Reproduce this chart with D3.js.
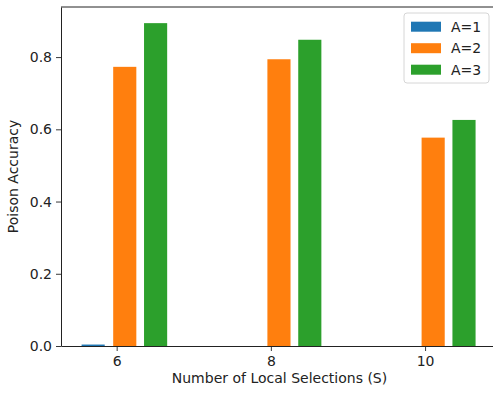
<!DOCTYPE html>
<html>
<head>
<meta charset="utf-8">
<script src="https://cdn.jsdelivr.net/npm/d3@7"></script>
<style>
  html, body { margin: 0; padding: 0; background: #fff; }
  svg { display: block; font-family: "DejaVu Sans", sans-serif; }
</style>
</head>
<body>
<svg id="chart" width="493" height="396"></svg>
<script>
// Grouped bars: poison accuracy per number of local selections, one bar per A
const categories = [6, 8, 10];
const seriesNames = ["A=1", "A=2", "A=3"];
const seriesA1 = [0.004, 0.0, 0.0];
const seriesA2 = [0.773, 0.794, 0.577];
const seriesA3 = [0.894, 0.848, 0.626];
const seriesColors = ["#1f77b4", "#ff7f0e", "#2ca02c"];
const barOffsets = [-0.455, -0.045, 0.355];   // left edge of each bar, in x units
const barWidth = 0.3;
const yTicks = [0.0, 0.2, 0.4, 0.6, 0.8];
const xTicks = [6, 8, 10];
const xDomain = [5.278, 10.92];
const yDomain = [0, 0.9387];

const series = [seriesA1, seriesA2, seriesA3];

const svg = d3.select("#chart");
// the axes box runs a few pixels past the right edge of the canvas
const plot = { left: 61, top: 7, right: 496, bottom: 346 };

const x = d3.scaleLinear().domain(xDomain).range([plot.left, plot.right]);
const y = d3.scaleLinear().domain(yDomain).range([plot.bottom, plot.top]);

// bars
series.forEach((vals, si) => {
  svg.append("g")
    .selectAll("rect")
    .data(categories.map((c, i) => ({ c, v: vals[i] })))
    .join("rect")
    .attr("x", d => x(d.c + barOffsets[si]))
    .attr("width", d => x(d.c + barOffsets[si] + barWidth) - x(d.c + barOffsets[si]))
    .attr("y", d => y(d.v))
    .attr("height", d => y(0) - y(d.v))
    .attr("fill", seriesColors[si]);
});

// axes
const axisColor = "#222";
const xAxis = svg.append("g")
  .attr("transform", `translate(0,${plot.bottom})`)
  .call(d3.axisBottom(x).tickValues(xTicks).tickFormat(d3.format("d")).tickSize(5).tickPadding(5).tickSizeOuter(0));
const yAxis = svg.append("g")
  .attr("transform", `translate(${plot.left},0)`)
  .call(d3.axisLeft(y).tickValues(yTicks).tickFormat(d3.format(".1f")).tickSize(5).tickPadding(4).tickSizeOuter(0));

[xAxis, yAxis].forEach(g => {
  g.select(".domain").attr("stroke", axisColor).attr("stroke-width", 1);
  g.selectAll(".tick line").attr("stroke", axisColor).attr("stroke-width", 0.9);
  g.selectAll(".tick text")
    .attr("fill", "#222")
    .style("font-family", "'DejaVu Sans', sans-serif")
    .style("font-size", "14px");
});

// top spine
svg.append("line")
  .attr("x1", plot.left).attr("x2", plot.right)
  .attr("y1", plot.top).attr("y2", plot.top)
  .attr("stroke", axisColor).attr("stroke-width", 1);

// axis titles
svg.append("text")
  .attr("x", (plot.left + plot.right) / 2 + 1)
  .attr("y", 383)
  .attr("text-anchor", "middle")
  .attr("fill", "#222")
  .style("font-size", "14px")
  .text("Number of Local Selections (S)");

svg.append("text")
  .attr("transform", `translate(18,${(plot.top + plot.bottom) / 2}) rotate(-90)`)
  .attr("text-anchor", "middle")
  .attr("fill", "#222")
  .style("font-size", "14px")
  .text("Poison Accuracy");

// legend
const legend = svg.append("g").attr("transform", "translate(404,13)");
legend.append("rect")
  .attr("x", 0).attr("y", 0)
  .attr("width", 85).attr("height", 70)
  .attr("rx", 3)
  .attr("fill", "#fff").attr("fill-opacity", 0.8)
  .attr("stroke", "#d6d6d6").attr("stroke-width", 1);
seriesNames.forEach((name, i) => {
  const row = legend.append("g").attr("transform", `translate(0,${13.7 + i * 21.5})`);
  row.append("rect")
    .attr("x", 7).attr("y", -5).attr("width", 30).attr("height", 10)
    .attr("fill", seriesColors[i]);
  row.append("text")
    .attr("x", 47).attr("y", 5)
    .attr("fill", "#222")
    .style("font-size", "14px")
    .text(name);
});
</script>
</body>
</html>
